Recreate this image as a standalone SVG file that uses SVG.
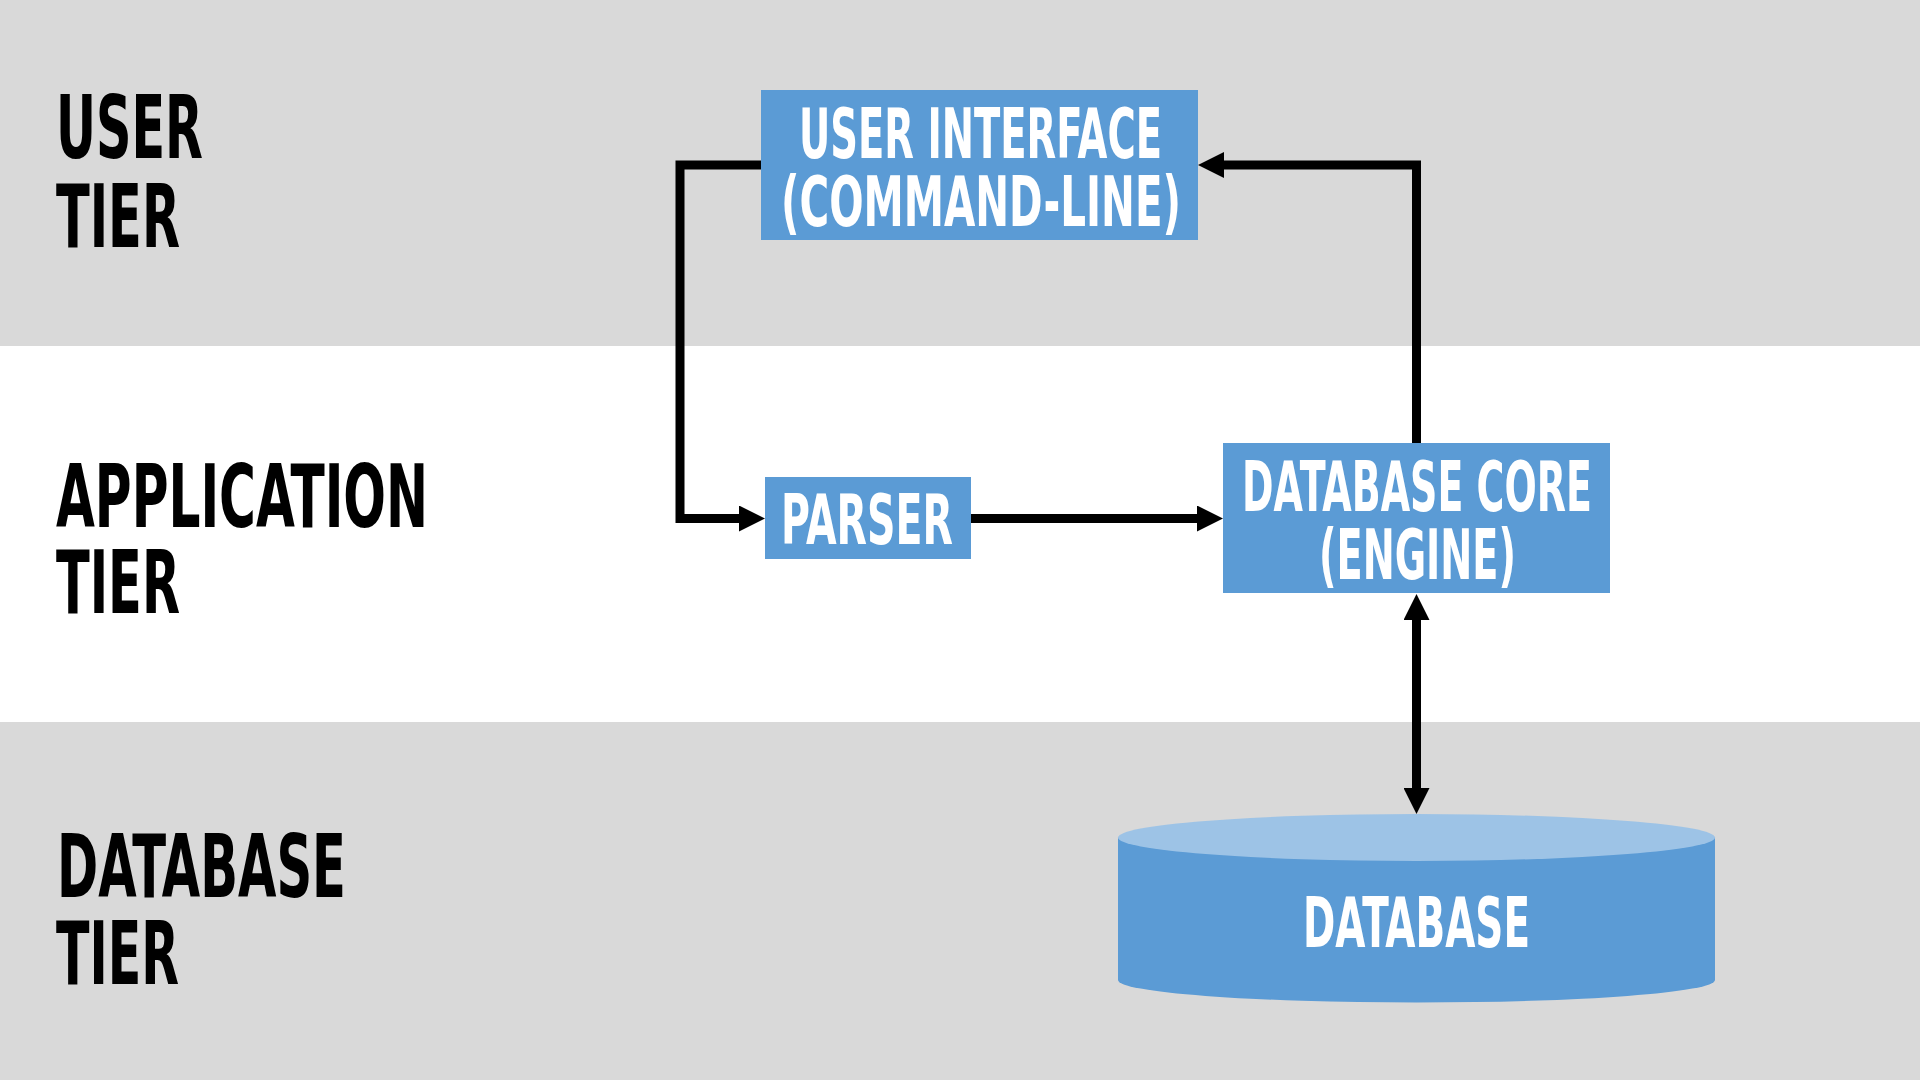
<svg xmlns="http://www.w3.org/2000/svg" width="1920" height="1080" viewBox="0 0 1920 1080">
  <style>
    .tier { font-family: "DejaVu Sans Condensed", "Liberation Sans Narrow", "Liberation Sans", sans-serif; font-weight: bold; font-size: 87px; fill: #000000; }
    .lbl { font-family: "DejaVu Sans Condensed", "Liberation Sans Narrow", "Liberation Sans", sans-serif; font-weight: bold; font-size: 68.6px; fill: #ffffff; }
    .box { fill: #5b9bd5; }
    .conn { fill: none; stroke: #000000; stroke-width: 9; stroke-linejoin: miter; }
  </style>
  <defs>
    <marker id="arrow" markerUnits="userSpaceOnUse" markerWidth="26" markerHeight="26" refX="0" refY="13" orient="auto-start-reverse" viewBox="0 0 26 26">
      <path d="M0,0 L26,13 L0,26 Z" fill="#000000"/>
    </marker>
  </defs>

  <g id="bands">
    <rect x="0" y="0" width="1920" height="346" fill="#d9d9d9"/>
    <rect x="0" y="346" width="1920" height="376" fill="#ffffff"/>
    <rect x="0" y="722" width="1920" height="358" fill="#d9d9d9"/>
  </g>

  <g id="tier-labels">
    <text class="tier" x="56" y="158" textLength="147" lengthAdjust="spacingAndGlyphs">USER</text>
    <text class="tier" x="56" y="246.5" textLength="124" lengthAdjust="spacingAndGlyphs">TIER</text>
    <text class="tier" x="56" y="526.5" textLength="372" lengthAdjust="spacingAndGlyphs">APPLICATION</text>
    <text class="tier" x="56" y="613" textLength="124" lengthAdjust="spacingAndGlyphs">TIER</text>
    <text class="tier" x="57" y="897" textLength="289" lengthAdjust="spacingAndGlyphs">DATABASE</text>
    <text class="tier" x="56" y="984" textLength="123" lengthAdjust="spacingAndGlyphs">TIER</text>
  </g>

  <g id="connectors">
    <path class="conn" d="M761,165 H680 V518.5 H739" marker-end="url(#arrow)"/>
    <path class="conn" d="M971,518.5 H1197" marker-end="url(#arrow)"/>
    <path class="conn" d="M1416.5,443 V165 H1224" marker-end="url(#arrow)"/>
    <path class="conn" d="M1416.5,620 V788" marker-start="url(#arrow)" marker-end="url(#arrow)"/>
  </g>

  <g id="user-interface">
    <rect class="box" x="761" y="90" width="437" height="150"/>
    <text class="lbl" x="799" y="157.7" textLength="363" lengthAdjust="spacingAndGlyphs">USER INTERFACE</text>
    <text class="lbl" x="781" y="226" textLength="400" lengthAdjust="spacingAndGlyphs">(COMMAND-LINE)</text>
  </g>

  <g id="parser">
    <rect class="box" x="765" y="477" width="206" height="82"/>
    <text class="lbl" x="781" y="544" textLength="172" lengthAdjust="spacingAndGlyphs">PARSER</text>
  </g>

  <g id="database-core">
    <rect class="box" x="1223" y="443" width="387" height="150"/>
    <text class="lbl" x="1242" y="511" textLength="350" lengthAdjust="spacingAndGlyphs">DATABASE CORE</text>
    <text class="lbl" x="1319" y="579.3" textLength="197" lengthAdjust="spacingAndGlyphs">(ENGINE)</text>
  </g>

  <g id="database">
    <path d="M1118,837.5 V980 A298.5,22.5 0 0 0 1715,980 V837.5 Z" fill="#5b9bd5"/>
    <ellipse cx="1416.5" cy="837.5" rx="298.5" ry="23.5" fill="#9dc3e6"/>
    <text class="lbl" x="1303" y="946.7" textLength="227" lengthAdjust="spacingAndGlyphs">DATABASE</text>
  </g>
</svg>
